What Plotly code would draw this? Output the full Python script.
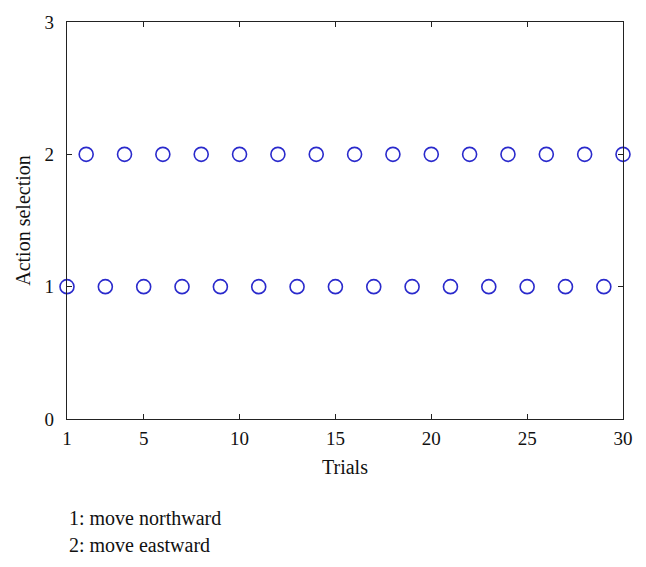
import plotly.graph_objects as go

trials = list(range(1, 31))
actions = [1 if t % 2 == 1 else 2 for t in trials]
x_ticks = [1, 5, 10, 15, 20, 25, 30]
y_ticks = [0, 1, 2, 3]
notes = ["1: move northward", "2: move eastward"]

font = "Liberation Serif, DejaVu Serif, serif"

fig = go.Figure()
fig.add_trace(go.Scatter(
    x=trials, y=actions, mode="markers",
    marker=dict(symbol="circle-open", size=14, color="#2a2acc", line=dict(width=1.6, color="#2a2acc")),
    cliponaxis=False, showlegend=False,
))

axis_common = dict(showline=True, linecolor="#222", linewidth=1.2, mirror="ticks",
                   ticks="inside", ticklen=5, tickcolor="#222", showgrid=False, zeroline=False,
                   automargin=False,
                   tickfont=dict(family=font, size=19, color="#111"))

fig.update_xaxes(range=[1, 30], tickvals=x_ticks, ticktext=[str(v) for v in x_ticks],
                 ticklabelstandoff=2,
                 title=dict(text="Trials", font=dict(family=font, size=20, color="#111"), standoff=12),
                 **axis_common)
fig.update_yaxes(range=[0, 3], tickvals=y_ticks, ticktext=[str(v) for v in y_ticks],
                 ticklabelstandoff=8,
                 title=dict(text="Action selection", font=dict(family=font, size=20, color="#111"), standoff=8),
                 **axis_common)

for i, t in enumerate(notes):
    fig.add_annotation(text=t, xref="paper", yref="paper", x=0.0, y=-0.25 - i * 0.068,
                       xanchor="left", yanchor="middle", showarrow=False,
                       font=dict(family=font, size=20, color="#111"))

fig.update_layout(width=630, height=551, margin=dict(l=59, r=15, t=14, b=140),
                  plot_bgcolor="white", paper_bgcolor="white")
fig.write_html("out.html")
